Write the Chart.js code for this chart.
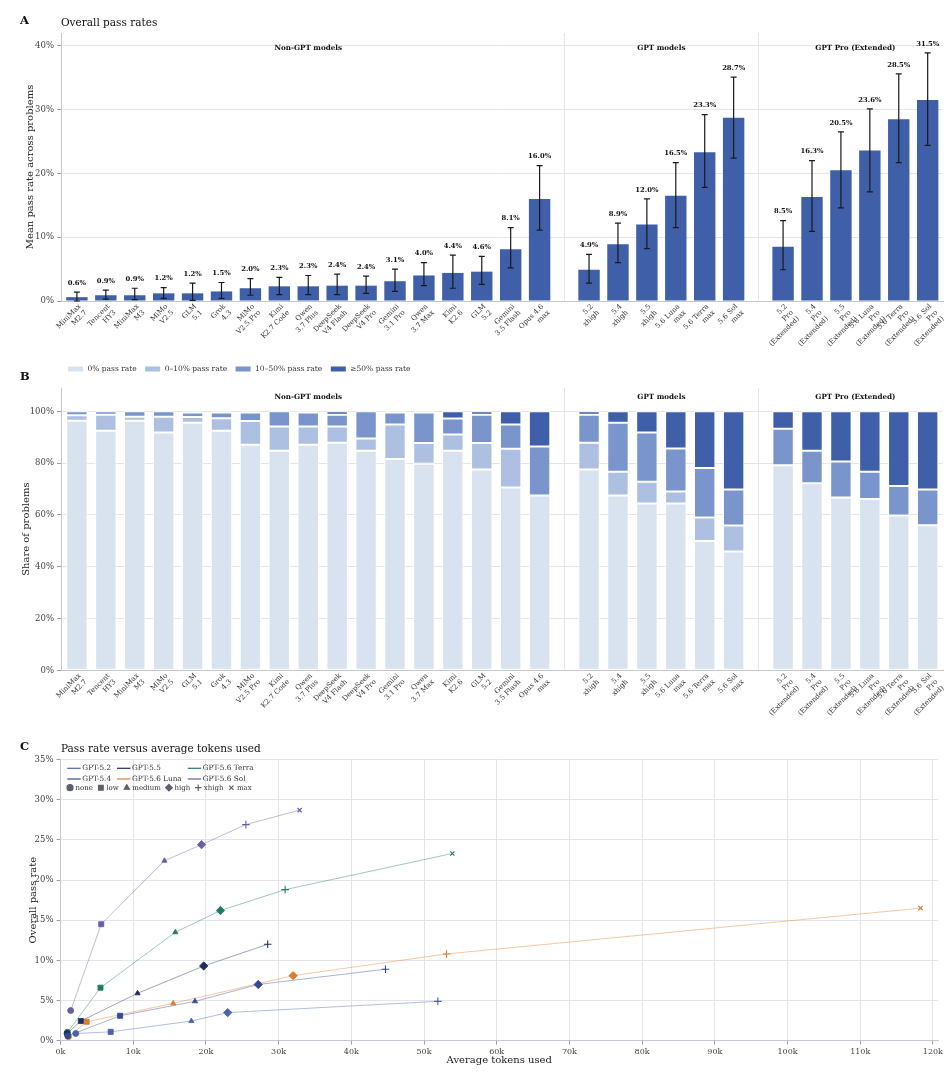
<!DOCTYPE html>
<html>
<head>
<meta charset="utf-8">
<script src="https://cdn.jsdelivr.net/npm/chart.js@4.4.1/dist/chart.umd.min.js"></script>
<style>
  body { margin: 0; background: #fff; }
  canvas { position: absolute; left: 0; }
</style>
</head>
<body>
<canvas id="chartA" width="952" height="352" style="top:0px"></canvas>
<canvas id="chartB" width="952" height="376" style="top:345px"></canvas>
<canvas id="chartC" width="952" height="363" style="top:715px"></canvas>
<script>
// ---------- data: panels A and B ----------
const groupTitles = ['Non-GPT models', 'GPT models', 'GPT Pro (Extended)'];

const nonGptLabels = [
  ['MiniMax', 'M2.7'], ['Tencent', 'HY3'], ['MiniMax', 'M3'], ['MiMo', 'V2.5'], ['GLM', '5.1'],
  ['Grok', '4.3'], ['MiMo', 'V2.5 Pro'], ['Kimi', 'K2.7 Code'], ['Qwen', '3.7 Plus'],
  ['DeepSeek', 'V4 Flash'], ['DeepSeek', 'V4 Pro'], ['Gemini', '3.1 Pro'], ['Qwen', '3.7 Max'],
  ['Kimi', 'K2.6'], ['GLM', '5.2'], ['Gemini', '3.5 Flash'], ['Opus 4.6', 'max']
];
const gptLabels = [
  ['5.2', 'xhigh'], ['5.4', 'xhigh'], ['5.5', 'xhigh'],
  ['5.6 Luna', 'max'], ['5.6 Terra', 'max'], ['5.6 Sol', 'max']
];
const proLabels = [
  ['5.2', 'Pro', '(Extended)'], ['5.4', 'Pro', '(Extended)'], ['5.5', 'Pro', '(Extended)'],
  ['5.6 Luna', 'Pro', '(Extended)'], ['5.6 Terra', 'Pro', '(Extended)'], ['5.6 Sol', 'Pro', '(Extended)']
];

// mean pass rate (%)
const nonGptPass = [0.6, 0.9, 0.9, 1.2, 1.2, 1.5, 2.0, 2.3, 2.3, 2.4, 2.4, 3.1, 4.0, 4.4, 4.6, 8.1, 16.0];
const gptPass = [4.9, 8.9, 12.0, 16.5, 23.3, 28.7];
const proPass = [8.5, 16.3, 20.5, 23.6, 28.5, 31.5];

// error bar ends (%)
const nonGptErrLow = [0.0, 0.3, 0.2, 0.4, 0.1, 0.4, 0.9, 1.0, 1.0, 1.0, 1.2, 1.5, 2.4, 2.0, 2.6, 5.2, 11.1];
const nonGptErrHigh = [1.4, 1.7, 2.0, 2.1, 2.8, 2.9, 3.5, 3.7, 4.0, 4.2, 3.9, 5.0, 6.0, 7.2, 7.0, 11.5, 21.2];
const gptErrLow = [2.8, 6.0, 8.2, 11.5, 17.8, 22.4];
const gptErrHigh = [7.3, 12.2, 16.0, 21.7, 29.2, 35.1];
const proErrLow = [4.9, 10.9, 14.6, 17.1, 21.7, 24.4];
const proErrHigh = [12.6, 22.0, 26.5, 30.1, 35.6, 38.9];

// share of problems by pass-rate bucket (%)
const bucketLabels = ['0% pass rate', '0\u201310% pass rate', '10\u201350% pass rate', '\u226550% pass rate'];
const shareZero = [96.4, 92.5, 96.4, 91.8, 95.6, 92.5, 87.1, 84.8, 87.1, 87.9, 84.8, 81.6, 79.8, 84.8, 77.5, 70.6, 67.5,
                   77.5, 67.5, 64.4, 64.4, 49.9, 45.9,
                   79.2, 72.2, 66.7, 66.1, 59.8, 56.0];
const shareLow = [2.1, 6.2, 1.5, 6.1, 2.2, 4.8, 9.2, 9.3, 7.0, 6.2, 4.7, 13.3, 8.0, 6.2, 10.3, 14.9, 0,
                  10.4, 9.2, 8.4, 4.6, 9.1, 10.0,
                  0, 0, 0, 0, 0, 0];
const shareMid = [1.5, 1.3, 2.1, 2.1, 1.7, 2.2, 3.2, 5.9, 5.4, 4.6, 10.5, 4.6, 11.7, 6.2, 10.9, 9.4, 18.9,
                  10.8, 18.9, 19.0, 16.6, 19.1, 13.9,
                  14.1, 12.6, 13.9, 10.6, 11.4, 13.8];
const shareHigh = [0, 0, 0, 0, 0.5, 0.5, 0.5, 0, 0.5, 1.3, 0, 0.5, 0.5, 2.8, 1.3, 5.1, 13.6,
                   1.3, 4.4, 8.2, 14.4, 21.9, 30.2,
                   6.7, 15.2, 19.4, 23.3, 28.8, 30.2];

// ---------- data: panel C ----------
const effortLevels = ['none', 'low', 'medium', 'high', 'xhigh', 'max'];
const seriesNames = ['GPT-5.2', 'GPT-5.4', 'GPT-5.5', 'GPT-5.6 Luna', 'GPT-5.6 Terra', 'GPT-5.6 Sol'];
const gpt52Tokens = [2100, 6900, 18000, 23000, 51900];
const gpt52Pass = [0.9, 1.1, 2.45, 3.5, 4.9];
const gpt54Tokens = [1000, 8200, 18500, 27200, 44700];
const gpt54Pass = [0.6, 3.1, 4.9, 7.0, 8.9];
const gpt55Tokens = [900, 2800, 10600, 19700, 28500];
const gpt55Pass = [0.9, 2.45, 5.9, 9.3, 12.0];
const lunaTokens = [1100, 3600, 15500, 32000, 53100, 118300];
const lunaPass = [0.5, 2.35, 4.65, 8.1, 10.8, 16.5];
const terraTokens = [950, 5500, 15800, 22000, 30900, 53900];
const terraPass = [1.05, 6.6, 13.5, 16.2, 18.8, 23.3];
const solTokens = [1400, 5600, 14300, 19400, 25500, 32900];
const solPass = [3.75, 14.5, 22.4, 24.4, 26.9, 28.7];
const tokenTicks = [0, 10000, 20000, 30000, 40000, 50000, 60000, 70000, 80000, 90000, 100000, 110000, 120000];

// ---------- styling ----------
const FONT = 'DejaVu Serif';
const GRID = '#e3e5eb';
const AXIS = '#c3c7d1';
const BAR_BLUE = '#3f5fa8';
const bucketColors = ['#d9e2ef', '#adc0e2', '#7995cb', '#3f5fa8'];
const seriesColors = ['#4b63ad', '#34498f', '#1f2c60', '#e27a2c', '#1f7a66', '#6b5ca6'];
const effortStyles = {
  none: ['circle', 3], low: ['rect', 3.6], medium: ['triangle', 3], high: ['rectRot', 4.2],
  xhigh: ['cross', 3.8], max: ['crossRot', 3]
};

function fnt(size, weight) { return (weight ? weight + ' ' : '') + size + 'px "' + FONT + '"'; }
function alpha(hex, a) {
  const n = parseInt(hex.slice(1), 16);
  return `rgba(${n >> 16}, ${(n >> 8) & 255}, ${n & 255}, ${a})`;
}

Chart.defaults.font.family = FONT;
Chart.defaults.color = '#333';

// bar positions with narrower gaps between groups
const GROUP_GAP = 0.71;
const allLabels = [...nonGptLabels, ...gptLabels, ...proLabels];
const allPass = [...nonGptPass, ...gptPass, ...proPass];
const allErrLow = [...nonGptErrLow, ...gptErrLow, ...proErrLow];
const allErrHigh = [...nonGptErrHigh, ...gptErrHigh, ...proErrHigh];
const positions = [], separators = [], groupCenters = [];
let cursor = 0;
[nonGptLabels.length, gptLabels.length, proLabels.length].forEach((n, g) => {
  if (g > 0) {
    separators.push(cursor - 1 + (1 + GROUP_GAP) / 2);
    cursor += GROUP_GAP;
  }
  const start = cursor;
  for (let i = 0; i < n; i++) positions.push(cursor++);
  groupCenters.push((start + cursor - 1) / 2);
});

function panelHeader(letter, title, y) {
  return {
    id: 'panelHeader',
    afterDraw(chart) {
      const ctx = chart.ctx;
      ctx.save();
      ctx.fillStyle = '#111';
      ctx.textBaseline = 'alphabetic';
      ctx.font = fnt(11.5, 'bold');
      ctx.fillText(letter, 20, y);
      if (title) {
        ctx.font = fnt(10.5);
        ctx.fillText(title, 61, y + 2);
      }
      ctx.restore();
    }
  };
}

function groupDecor(titleOffset) {
  return {
    id: 'groupDecor',
    beforeDatasetsDraw(chart) {
      const {ctx, chartArea, scales: {x}} = chart;
      ctx.save();
      ctx.strokeStyle = GRID;
      ctx.lineWidth = 1;
      separators.forEach(s => {
        const px = Math.round(x.getPixelForValue(s)) + 0.5;
        ctx.beginPath();
        ctx.moveTo(px, chartArea.top);
        ctx.lineTo(px, chartArea.bottom);
        ctx.stroke();
      });
      ctx.font = fnt(7.2, 'bold');
      ctx.fillStyle = '#111';
      ctx.textAlign = 'center';
      ctx.textBaseline = 'middle';
      groupTitles.forEach((t, g) => ctx.fillText(t, x.getPixelForValue(groupCenters[g]), chartArea.top + titleOffset));
      ctx.restore();
    },
    // model names: rotated 45deg, right-aligned lines anchored at the tick
    afterDraw(chart) {
      const {ctx, chartArea, scales: {x}} = chart;
      ctx.save();
      ctx.font = fnt(7);
      ctx.fillStyle = '#333';
      ctx.textAlign = 'right';
      ctx.textBaseline = 'top';
      allLabels.forEach((lines, i) => {
        ctx.save();
        ctx.translate(x.getPixelForValue(positions[i]) + 0.5, chartArea.bottom + 2);
        ctx.rotate(-Math.PI / 4);
        lines.forEach((line, j) => ctx.fillText(line, 0, j * 8.6));
        ctx.restore();
      });
      ctx.restore();
    }
  };
}

function modelXAxis(height) {
  return {
    type: 'linear',
    min: -0.55,
    max: 29.95,
    offset: false,
    stacked: true,
    grid: { display: false },
    border: { color: AXIS },
    afterFit: scale => { scale.height = height; },
    ticks: { display: false }
  };
}

// ---------- panel A ----------
const errorBars = {
  id: 'errorBars',
  afterDatasetsDraw(chart) {
    const {ctx, scales: {x, y}} = chart;
    ctx.save();
    ctx.strokeStyle = '#1a1a1a';
    ctx.lineWidth = 1.2;
    ctx.fillStyle = '#111';
    ctx.font = fnt(6.8, 'bold');
    ctx.textAlign = 'center';
    ctx.textBaseline = 'middle';
    allPass.forEach((v, i) => {
      const px = x.getPixelForValue(positions[i]);
      const lo = y.getPixelForValue(allErrLow[i]);
      const hi = y.getPixelForValue(allErrHigh[i]);
      ctx.beginPath();
      ctx.moveTo(px, lo); ctx.lineTo(px, hi);
      ctx.moveTo(px - 3, lo); ctx.lineTo(px + 3, lo);
      ctx.moveTo(px - 3, hi); ctx.lineTo(px + 3, hi);
      ctx.stroke();
      ctx.fillText(v.toFixed(1) + '%', px, hi - 9);
    });
    ctx.restore();
  }
};

new Chart(document.getElementById('chartA'), {
  type: 'bar',
  data: {
    datasets: [{
      data: positions.map((p, i) => ({ x: p, y: allPass[i] })),
      backgroundColor: BAR_BLUE,
      barPercentage: 0.74,
      categoryPercentage: 1
    }]
  },
  options: {
    responsive: false,
    animation: false,
    layout: { padding: { top: 33, right: 9, left: 0, bottom: 0 } },
    plugins: { legend: { display: false }, tooltip: { enabled: false } },
    scales: {
      x: modelXAxis(51),
      y: {
        min: 0,
        max: 42,
        grid: { color: GRID, tickColor: '#9a9ea8', tickLength: 4 },
        border: { color: AXIS },
        afterFit: scale => { scale.width = 61; },
        title: { display: true, text: 'Mean pass rate across problems', font: { size: 10 }, color: '#222', padding: { top: 24, bottom: 0 } },
        ticks: { stepSize: 10, includeBounds: false, color: '#444', font: { size: 8.5 }, padding: 3, callback: v => v + '%' }
      }
    }
  },
  plugins: [groupDecor(15), errorBars, panelHeader('A', 'Overall pass rates', 24)]
});

// ---------- panel B ----------
const bucketLegend = {
  id: 'bucketLegend',
  afterDraw(chart) {
    const ctx = chart.ctx;
    ctx.save();
    ctx.font = fnt(7.5);
    ctx.textBaseline = 'middle';
    let x = 68;
    const y = 24;
    bucketLabels.forEach((label, i) => {
      ctx.fillStyle = bucketColors[i];
      ctx.fillRect(x, y - 2.5, 15, 5);
      ctx.fillStyle = '#333';
      ctx.fillText(label, x + 19.5, y);
      x += 19.5 + ctx.measureText(label).width + 8.5;
    });
    ctx.restore();
  }
};

const shareSeries = [shareZero, shareLow, shareMid, shareHigh];
new Chart(document.getElementById('chartB'), {
  type: 'bar',
  data: {
    datasets: shareSeries.map((vals, k) => ({
      label: bucketLabels[k],
      data: positions.map((p, i) => ({ x: p, y: vals[i] })),
      backgroundColor: bucketColors[k],
      borderColor: '#ffffff',
      borderWidth: 1,
      borderSkipped: false,
      barPercentage: 0.74,
      categoryPercentage: 1
    }))
  },
  options: {
    responsive: false,
    animation: false,
    layout: { padding: { top: 43, right: 9, left: 0, bottom: 0 } },
    plugins: { legend: { display: false }, tooltip: { enabled: false } },
    scales: {
      x: modelXAxis(376 - 325.3),
      y: {
        stacked: true,
        min: 0,
        max: 109,
        grid: { color: GRID, tickColor: '#9a9ea8', tickLength: 4 },
        border: { color: AXIS },
        afterFit: scale => { scale.width = 61; },
        title: { display: true, text: 'Share of problems', font: { size: 10 }, color: '#222', padding: { top: 20, bottom: 0 } },
        ticks: { stepSize: 20, includeBounds: false, color: '#444', font: { size: 8.5 }, padding: 3, callback: v => v + '%' }
      }
    }
  },
  plugins: [groupDecor(9), bucketLegend, panelHeader('B', '', 35)]
});

// ---------- panel C ----------
const seriesTokens = [gpt52Tokens, gpt54Tokens, gpt55Tokens, lunaTokens, terraTokens, solTokens];
const seriesPass = [gpt52Pass, gpt54Pass, gpt55Pass, lunaPass, terraPass, solPass];

const tokenLegend = {
  id: 'tokenLegend',
  afterDraw(chart) {
    const ctx = chart.ctx;
    ctx.save();
    ctx.font = fnt(7.3);
    ctx.textBaseline = 'middle';
    const rowY = [53.3, 64];
    let colX = 67.3;
    for (let col = 0; col < 3; col++) {
      let widest = 0;
      for (let row = 0; row < 2; row++) {
        const k = col * 2 + row;
        ctx.strokeStyle = seriesColors[k];
        ctx.lineWidth = 1.2;
        ctx.beginPath();
        ctx.moveTo(colX, rowY[row]);
        ctx.lineTo(colX + 13.4, rowY[row]);
        ctx.stroke();
        ctx.fillStyle = '#333';
        ctx.fillText(seriesNames[k], colX + 15, rowY[row]);
        widest = Math.max(widest, ctx.measureText(seriesNames[k]).width);
      }
      colX += 15 + widest + 6;
    }
    // effort marker key
    ctx.font = fnt(7);
    let mx = 70;
    const my = 72.7;
    effortLevels.forEach(e => {
      const [style, r] = effortStyles[e];
      ctx.fillStyle = '#5a5f6b';
      ctx.strokeStyle = '#5a5f6b';
      Chart.helpers.drawPoint(ctx, { pointStyle: style, radius: Math.min(r, 3.3), rotation: 0, borderWidth: style.startsWith('cross') ? 1.8 : 1 }, mx, my);
      ctx.fillStyle = '#333';
      ctx.fillText(e, mx + 5.5, my);
      mx += 5.5 + ctx.measureText(e).width + 8;
    });
    ctx.restore();
  }
};

new Chart(document.getElementById('chartC'), {
  type: 'scatter',
  data: {
    datasets: seriesNames.map((name, k) => ({
      label: name,
      data: seriesTokens[k].map((t, i) => ({ x: t, y: seriesPass[k][i] })),
      showLine: true,
      borderColor: alpha(seriesColors[k], 0.42),
      borderWidth: 1,
      pointBackgroundColor: seriesColors[k],
      pointBorderColor: seriesColors[k],
      pointBorderWidth: ctx => ['xhigh', 'max'].includes(effortLevels[ctx.dataIndex]) ? 1.1 : 0.8,
      pointStyle: ctx => effortStyles[effortLevels[ctx.dataIndex]][0],
      pointRadius: ctx => effortStyles[effortLevels[ctx.dataIndex]][1]
    }))
  },
  options: {
    responsive: false,
    animation: false,
    layout: { padding: { top: 44.5, right: 14, left: 0, bottom: 0 } },
    plugins: { legend: { display: false }, tooltip: { enabled: false } },
    scales: {
      x: {
        type: 'linear',
        min: 0,
        max: 120700,
        grid: { color: GRID, tickColor: '#9a9ea8', tickLength: 4 },
        border: { color: AXIS },
        afterBuildTicks: scale => { scale.ticks = tokenTicks.map(v => ({ value: v })); },
        afterFit: scale => { scale.height = 37.3; },
        title: { display: true, text: 'Average tokens used', font: { size: 10 }, color: '#222', padding: { top: 0, bottom: 12 } },
        ticks: {
          autoSkip: false, color: '#444', font: { size: 8 }, padding: 2, maxRotation: 0,
          callback: v => Math.round(v / 1000) + 'k'
        }
      },
      y: {
        min: 0,
        max: 35,
        grid: { color: GRID, tickColor: '#9a9ea8', tickLength: 4 },
        border: { color: AXIS },
        afterFit: scale => { scale.width = 60.5; },
        title: { display: true, text: 'Overall pass rate', font: { size: 10 }, color: '#222', padding: { top: 27, bottom: 0 } },
        ticks: { stepSize: 5, color: '#444', font: { size: 8.5 }, padding: 3, callback: v => v + '%' }
      }
    }
  },
  plugins: [tokenLegend, panelHeader('C', 'Pass rate versus average tokens used', 35)]
});
</script>
</body>
</html>
